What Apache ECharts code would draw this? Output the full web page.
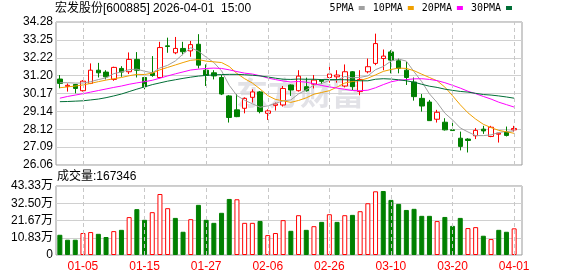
<!DOCTYPE html>
<html><head><meta charset="utf-8">
<script src="https://cdn.jsdelivr.net/npm/echarts@6/dist/echarts.min.js"></script>
<style>html,body{margin:0;padding:0;background:#fff}#c{width:578px;height:276px}</style>
</head><body><div id="c"></div>
<script>
const dates = ['12-29','12-30','12-31','01-05','01-06','01-07','01-08','01-09','01-12','01-13',
'01-14','01-15','01-16','01-19','01-20','01-21','01-22','01-23','01-26','01-27',
'01-28','01-29','01-30','02-02','02-03','02-04','02-05','02-06','02-09','02-10',
'02-11','02-12','02-13','02-24','02-25','02-26','02-27','03-02','03-03','03-04',
'03-05','03-06','03-09','03-10','03-11','03-12','03-13','03-16','03-17','03-18',
'03-19','03-20','03-23','03-24','03-25','03-26','03-27','03-30','03-31','04-01'];
const openP = [31.00,30.58,30.69,30.33,30.75,31.51,31.40,30.98,31.61,31.42,
32.13,31.09,31.36,31.09,32.91,32.51,32.76,32.62,33.00,31.51,
31.36,31.09,30.03,29.23,29.32,29.95,30.26,29.03,29.49,29.51,
30.66,30.33,30.56,30.71,30.94,31.09,31.13,30.60,31.42,30.28,
31.42,31.90,32.18,32.56,32.05,31.51,30.83,29.89,29.68,28.69,
28.52,28.08,27.60,27.55,27.74,28.12,27.70,27.83,27.95,28.08];
const closeP = [30.75,30.64,30.46,30.88,31.51,31.36,31.13,31.67,31.40,32.13,
31.51,30.56,31.21,32.81,32.87,32.76,32.57,32.98,31.80,31.21,
31.18,30.14,28.79,28.84,29.89,30.26,29.13,29.17,29.57,30.46,
30.37,31.17,30.33,30.94,30.87,31.29,31.23,31.42,30.56,30.98,
31.71,33.04,32.32,32.09,31.61,31.09,29.99,29.45,28.61,29.09,
28.08,28.04,27.13,27.47,28.05,28.02,28.23,27.89,27.76,28.16];
const lowP = [30.47,30.28,30.18,30.28,30.71,31.09,30.98,30.90,31.13,31.29,
31.09,30.41,31.13,31.04,32.51,32.43,32.37,32.28,31.61,30.60,
30.98,30.08,28.50,28.81,29.03,29.65,29.03,28.65,29.19,29.42,
30.03,30.28,30.28,30.46,30.71,30.79,30.79,30.52,30.37,30.07,
31.33,31.80,31.51,31.33,31.33,30.66,29.76,29.13,28.61,28.50,
28.04,28.04,26.90,26.78,27.55,27.85,27.66,27.35,27.70,27.98];
const highP = [31.23,30.75,30.72,30.94,31.90,31.93,31.51,31.71,31.74,32.53,
32.55,31.13,32.32,33.14,33.38,33.42,33.14,33.19,33.58,31.84,
31.51,31.23,30.08,30.14,29.95,30.41,30.31,29.26,29.65,30.60,
30.69,31.51,31.08,31.23,30.98,31.93,31.51,31.84,31.46,31.51,
32.18,33.61,32.70,32.66,32.18,31.99,31.09,30.14,29.80,29.23,
28.75,28.52,27.98,27.60,28.18,28.31,28.31,27.89,28.27,28.31];
const volume = [127000,96000,96000,138000,144000,133000,113000,150000,158000,238000,
288000,221000,269000,383000,294000,233000,146000,225000,315000,221000,
202000,265000,352000,350000,202000,202000,214000,125000,138000,219000,
152000,250000,158000,181000,208000,256000,208000,250000,252000,275000,
325000,400000,402000,346000,321000,283000,290000,246000,246000,213000,
239000,183000,233000,169000,175000,121000,100000,158000,146000,167346];
const ma5 = [30.79,30.79,30.77,30.77,30.85,30.97,31.07,31.31,31.41,31.54,
31.57,31.45,31.36,31.64,31.79,32.04,32.44,32.80,32.60,32.26,
31.95,31.47,30.64,30.05,29.78,29.58,29.38,29.46,29.60,29.75,
29.80,30.15,30.38,30.65,30.74,30.92,30.93,31.15,31.07,31.10,
31.18,31.54,31.72,32.03,32.15,32.03,31.42,30.85,30.15,29.65,
29.04,28.65,28.19,27.96,27.75,27.75,27.79,27.93,27.99,28.02];
const ma10 = [30.50,30.55,30.60,30.66,30.75,30.85,30.94,31.02,31.09,31.19,
31.27,31.26,31.34,31.53,31.67,31.81,31.95,32.08,32.12,32.03,
31.99,31.95,31.72,31.32,31.02,30.77,30.43,30.05,29.83,29.75,
29.66,29.77,29.92,30.13,30.23,30.33,30.54,30.77,30.86,30.92,
31.05,31.24,31.44,31.55,31.63,31.61,31.48,31.28,31.09,30.90,
30.54,30.04,29.52,29.06,28.70,28.40,28.21,28.05,27.97,27.88];
const ma20 = [29.90,30.00,30.08,30.16,30.25,30.34,30.43,30.52,30.60,30.70,
30.78,30.85,30.93,31.05,31.18,31.30,31.41,31.52,31.57,31.61,
31.63,31.61,31.53,31.43,31.34,31.29,31.19,31.06,30.97,30.89,
30.83,30.86,30.82,30.73,30.63,30.55,30.48,30.41,30.34,30.33,
30.36,30.50,30.68,30.84,30.93,30.97,31.01,31.02,30.98,30.91,
30.79,30.64,30.48,30.30,30.16,30.00,29.85,29.67,29.53,29.39];
const ma30 = [29.70,29.71,29.73,29.75,29.80,29.85,29.93,30.03,30.14,30.28,
30.42,30.55,30.68,30.78,30.88,30.96,31.04,31.11,31.17,31.21,
31.24,31.26,31.27,31.27,31.25,31.22,31.18,31.12,31.05,30.99,
30.98,31.00,30.99,30.99,30.97,30.97,30.97,30.96,30.94,30.90,
30.90,30.99,31.02,31.00,30.96,30.90,30.82,30.70,30.59,30.52,
30.42,30.35,30.29,30.25,30.18,30.11,30.08,30.03,29.97,29.90];
const priceTicks = ['26.06','27.09','28.12','29.14','30.17','31.20','32.22','33.25','34.28'];
const volTicks = ['0','10.83万','21.67万','32.50万','43.33万'];
const xTickLabels = ['01-05','01-15','01-27','02-06','02-26','03-10','03-20','04-01'];
const titleText = '宏发股份[600885] 2026-04-01  15:00';
const volTitle = '成交量:167346';
const priceMin = 26.06, priceMax = 34.28, volMax = 433333;

const F = "'Liberation Sans','Noto Sans CJK SC',sans-serif";
const MONO = "'DejaVu Sans Mono','Noto Sans CJK SC',monospace";
const UP = '#ff0000', DOWN = '#008000';
const chart = echarts.init(document.getElementById('c'), null, {renderer: 'canvas'});
const candleData = dates.map((d, i) => [openP[i], closeP[i], lowP[i], highP[i]]);
const volData = volume.map((v, i) => {
  const up = i === 0 ? closeP[0] >= openP[0] : closeP[i] >= closeP[i - 1];
  return {value: v, itemStyle: up ? {color: '#fff', borderColor: UP, borderWidth: 1} : {color: DOWN, borderColor: DOWN, borderWidth: 1}};
});
const showTick = (idx) => xTickLabels.indexOf(dates[idx]) >= 0;
const gridLines = (xi, yi) => ({type: 'line', xAxisIndex: xi, yAxisIndex: yi, data: [], z: 1, silent: true,
  markLine: {silent: true, symbol: 'none', animation: false, label: {show: false},
    lineStyle: {color: '#c8c8c8', type: [4, 3], width: 1}, emphasis: {disabled: true},
    data: xTickLabels.map(d => ({xAxis: d}))}});
const maLine = (name, data, color) => ({name, type: 'line', xAxisIndex: 0, yAxisIndex: 0, data, symbol: 'none', smooth: false, lineStyle: {color, width: 1}, itemStyle: {color}, z: 3});

chart.setOption({
  animation: false,
  textStyle: {fontFamily: F},
  title: [
    {text: titleText, left: 55, top: 3, padding: 0, textStyle: {fontSize: 12, fontWeight: 'normal', color: '#000', fontFamily: F}},
    {text: volTitle, left: 57, top: 171, padding: 0, textStyle: {fontSize: 12, fontWeight: 'normal', color: '#000', fontFamily: F}}
  ],
  legend: {right: 66, top: 3, padding: 0, itemWidth: 6, itemHeight: 4, itemGap: 8, align: 'right', icon: 'rect', selectedMode: false,
    textStyle: {fontSize: 10, color: '#000', fontFamily: MONO}, data: ['5PMA', '10PMA', '20PMA', '30PMA']},
  graphic: [{type: 'text', left: 236, top: 77, z: 0, silent: true,
    style: {text: '东方财富', font: 'bold 32px "Noto Sans CJK SC"', fill: 'rgba(150,150,170,0.28)'}}],
  grid: [
    {left: 56, top: 22, width: 462, height: 143, show: false},
    {left: 56, top: 186, width: 462, height: 69, show: false},
    {left: 56, top: 22, width: 466, height: 143, show: true, borderColor: '#999', borderWidth: 1},
    {left: 56, top: 186, width: 466, height: 69, show: true, borderColor: '#999', borderWidth: 1}
  ],
  xAxis: [
    {type: 'category', gridIndex: 0, data: dates, boundaryGap: true, axisLine: {show: false}, axisTick: {show: false}, axisLabel: {show: false}, splitLine: {show: false}},
    {type: 'category', gridIndex: 1, data: dates, boundaryGap: true, axisLine: {show: false}, axisTick: {show: false},
      axisLabel: {show: true, interval: showTick, color: '#ff0000', fontSize: 12, margin: 6, fontFamily: F}, splitLine: {show: false}},
    {type: 'value', gridIndex: 2, show: false, min: 0, max: 1, splitLine: {show: false}},
    {type: 'value', gridIndex: 3, show: false, min: 0, max: 1, splitLine: {show: false}}
  ],
  yAxis: [
    {type: 'value', gridIndex: 0, min: priceMin, max: priceMax, show: false, splitLine: {show: false}},
    {type: 'value', gridIndex: 1, min: 0, max: volMax, show: false, splitLine: {show: false}},
    {type: 'value', gridIndex: 2, min: 0, max: 8, interval: 1, axisLine: {show: false}, axisTick: {show: false},
      axisLabel: {formatter: (v) => priceTicks[Math.round(v)], color: '#000', fontSize: 12, margin: 3, fontFamily: F},
      splitLine: {show: true, lineStyle: {color: '#d0d0d0', width: 1}}},
    {type: 'value', gridIndex: 3, min: 0, max: 4, interval: 1, axisLine: {show: false}, axisTick: {show: false},
      axisLabel: {formatter: (v) => volTicks[Math.round(v)], color: '#000', fontSize: 12, margin: 3, fontFamily: F},
      splitLine: {show: true, lineStyle: {color: '#d0d0d0', width: 1}}}
  ],
  series: [
    gridLines(0, 0),
    gridLines(1, 1),
    {name: 'K', type: 'candlestick', xAxisIndex: 0, yAxisIndex: 0, data: candleData, barWidth: 5, z: 2,
      itemStyle: {color: '#ffffff', color0: DOWN, borderColor: UP, borderColor0: DOWN, borderWidth: 1}},
    maLine('5PMA', ma5, '#a0a0a0'),
    maLine('10PMA', ma10, '#f0a000'),
    maLine('20PMA', ma20, '#ff00ff'),
    maLine('30PMA', ma30, '#006e36'),
    {name: 'VOL', type: 'bar', xAxisIndex: 1, yAxisIndex: 1, data: volData, barWidth: 5, z: 2}
  ]
});
</script></body></html>
